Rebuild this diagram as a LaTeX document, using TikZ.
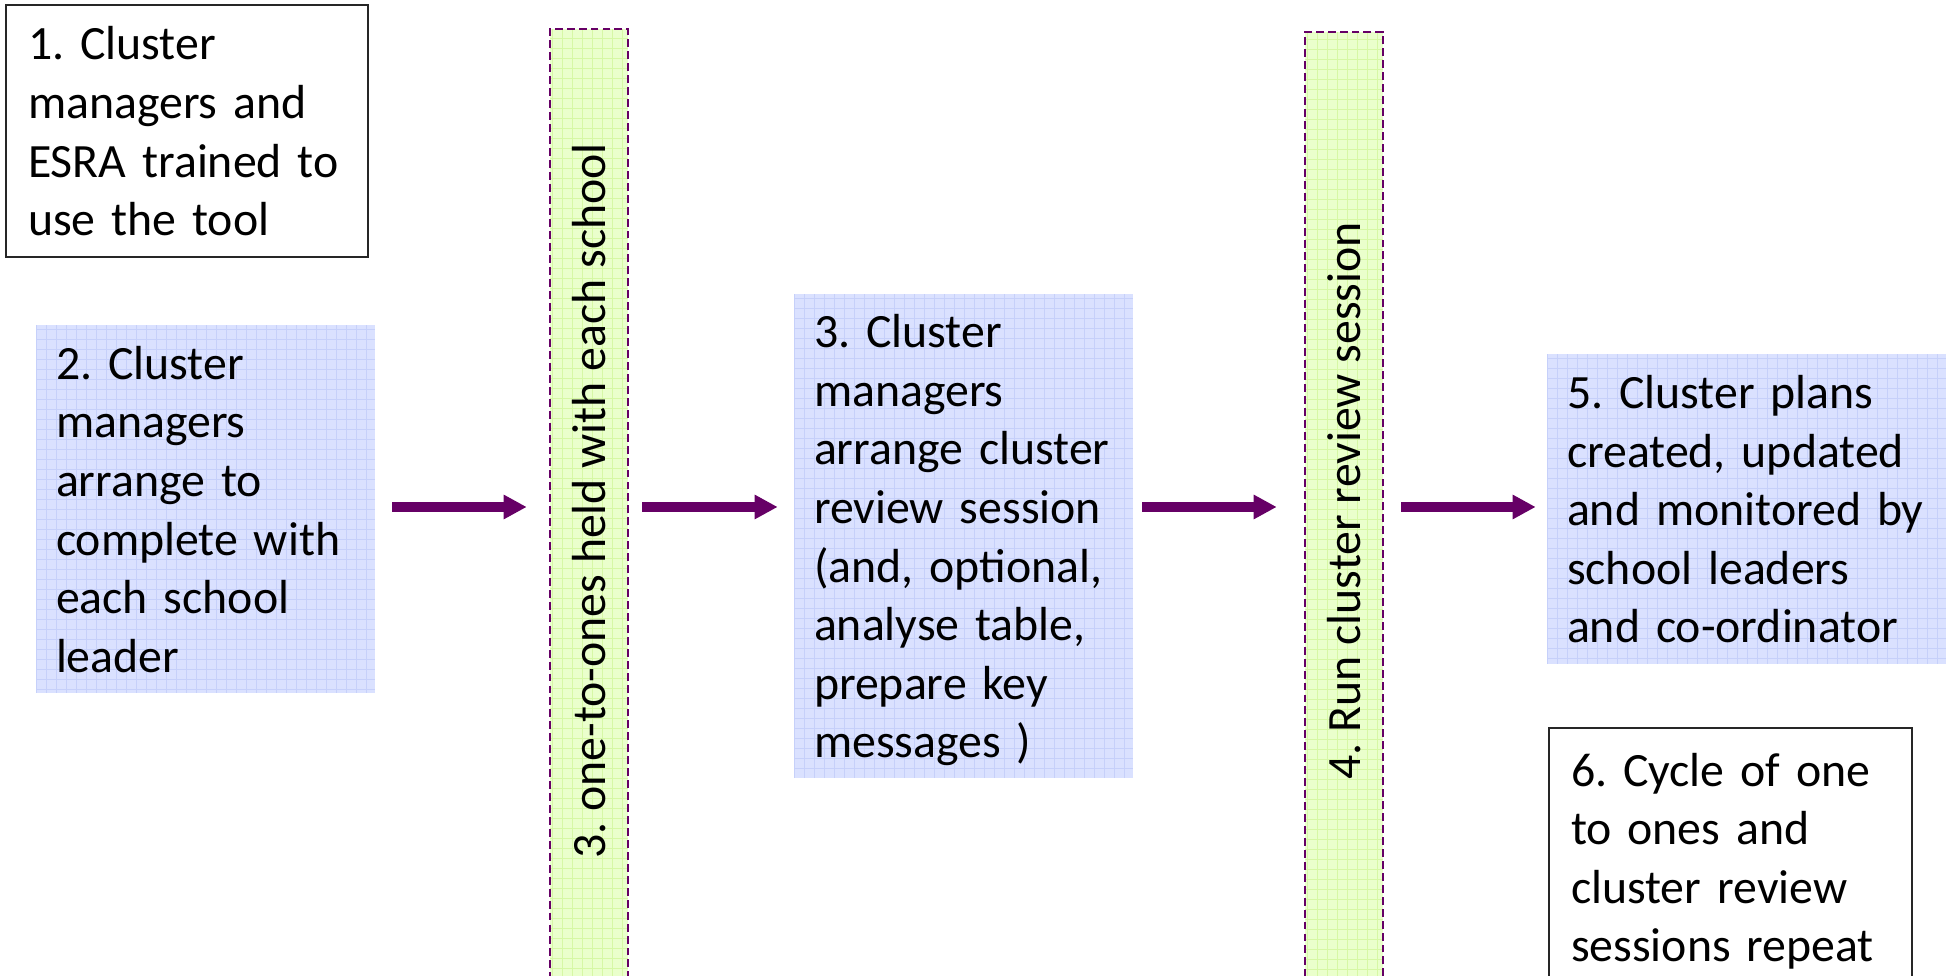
\documentclass[tikz,border=0pt]{standalone}
\usepackage{fontspec}
\setmainfont{Carlito}
\usetikzlibrary{arrows.meta}
\definecolor{PurpleArrow}{rgb}{0.4,0,0.4}
\definecolor{BlueFill}{RGB}{218,225,255}
\definecolor{BlueGrid}{RGB}{198,208,250}
\definecolor{GreenFill}{RGB}{234,255,204}
\definecolor{GreenGrid}{RGB}{214,248,165}
\newcommand\boxstrut{\rule[-7.1pt]{0pt}{33.3pt}}

\begin{document}
\frenchspacing
\begin{tikzpicture}[
    every node/.style={font=\fontsize{27.2pt}{33.3pt}\selectfont, align=left,
        execute at begin node=\boxstrut, execute at end node=\boxstrut},
    plain box/.style={draw=black!85, line width=1pt, inner xsep=0.44cm, inner ysep=0pt},
    grid box/.style={fill=#1Fill, inner xsep=0.4cm, inner ysep=0pt,
        path picture={\draw[#1Grid, solid, line width=0.5pt, step=0.2cm]
            (path picture bounding box.south west) grid (path picture bounding box.north east);}},
    stage bar/.style={grid box=Green, draw=PurpleArrow, line width=1.5pt,
        dash pattern=on 4.5pt off 2.3pt, minimum width=1.56cm, inner sep=0pt,
        execute at begin node={}, execute at end node={}},
    flow/.style={PurpleArrow, line width=5.7pt, -{Triangle[length=0.46cm,width=0.46cm]}}
]
    \useasboundingbox (0,0) rectangle (38.92,19.52);
    \clip (0,0) rectangle (38.92,19.52);
    %%Steps
    \node[plain box, text width=6.36cm, minimum height=5.04cm] (train) at (3.74,16.90)
        {1. Cluster\\managers and\\ESRA trained to\\use the tool};
    \node[grid box=Blue, text width=5.98cm, minimum height=7.36cm] (arrange) at (4.11,9.34)
        {2. Cluster\\managers\\arrange to\\complete with\\each school\\leader};
    \node[stage bar, minimum height=19.12cm] (onetoone) at (11.78,9.38)
        {\rotatebox{90}{3. one-to-ones held with each school}};
    \node[grid box=Blue, text width=5.98cm, minimum height=9.68cm] (session) at (19.27,8.80)
        {3. Cluster\\managers\\arrange cluster\\review session\\(and, optional,\\analyse table,\\prepare key\\messages )};
    \node[stage bar, minimum height=19.00cm] (review) at (26.88,9.38)
        {\rotatebox{90}{4. Run cluster review session}};
    \node[grid box=Blue, text width=7.46cm, minimum height=6.20cm] (plans) at (35.07,9.34)
        {5. Cluster plans\\created, updated\\and monitored by\\school leaders\\and co-ordinator};
    \node[plain box, text width=6.38cm, minimum height=5.16cm] (cycle) at (34.61,2.38)
        {6. Cycle of one\\to ones and\\cluster review\\sessions repeat};
    %%Arrows
    \draw[flow, shorten <=0.34cm, shorten >=0.44cm] (arrange.east |- onetoone.west) -- (onetoone.west);
    \draw[flow, shorten <=0.26cm, shorten >=0.32cm] (onetoone.east) -- (onetoone.east -| session.west);
    \draw[flow, shorten <=0.18cm, shorten >=0.54cm] (session.east |- review.west) -- (review.west);
    \draw[flow, shorten <=0.34cm, shorten >=0.22cm] (review.east) -- (review.east -| plans.west);
\end{tikzpicture}
\end{document}
